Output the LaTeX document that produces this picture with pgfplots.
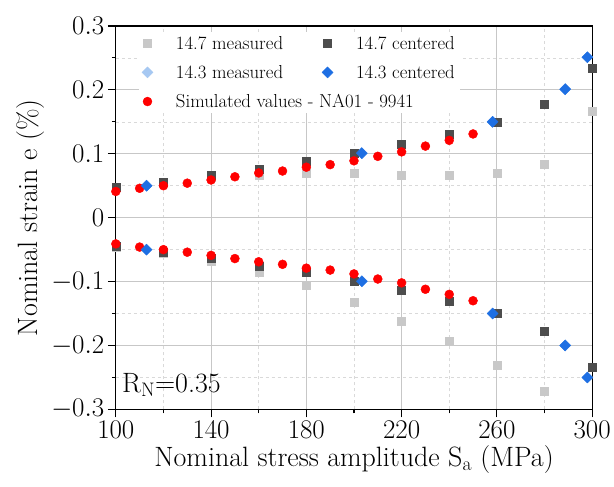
\RequirePackage{fix-cm}
\documentclass[border=0pt]{standalone}
\usepackage{pgfplots}
\pgfplotsset{compat=1.18}
\definecolor{lgray}{HTML}{C8C8C8}
\definecolor{dgray}{HTML}{4D4D4D}
\definecolor{mblue}{HTML}{1E6FE3}
\definecolor{lblue}{HTML}{A6C8F2}
\begin{document}
\begin{tikzpicture}
\begin{axis}[
 name=ax,
 width=477pt, height=384pt, scale only axis,
 xmin=100, xmax=300, ymin=-0.3, ymax=0.3,
 xtick={100,140,180,220,260,300},
 ytick={-0.3,-0.2,-0.1,0,0.1,0.2,0.3},
 minor x tick num=1, minor y tick num=1,
 grid=both,
 major grid style={black!22, line width=0.8pt},
 minor grid style={black!15, dashed, line width=0.6pt},
 tick align=outside, tick pos=left,
 major tick length=8pt, minor tick length=4pt,
 every tick/.style={black, line width=1.1pt},
 axis line style={line width=1.2pt},
 ticklabel style={font=\fontsize{27}{32}\selectfont},
 yticklabel style={/pgf/number format/fixed},
 label style={font=\fontsize{28}{33}\selectfont},
 xlabel={Nominal stress amplitude S\textsubscript{a} (MPa)},
 ylabel={Nominal strain e (\%)},
 legend columns=2,
 legend cell align=left,
 legend style={at={(0,1)}, anchor=north west, xshift=23pt, yshift=-6pt,
   draw=none, fill=white, font=\fontsize{18.8}{22}\selectfont,
   /tikz/every odd column/.append style={column sep=21pt},
   /tikz/every even column/.append style={column sep=37pt},
   row sep=10.5pt},
]
\addlegendimage{only marks, mark=square*, color=lgray, mark size=4pt}
\addlegendentry{14.7 measured}
\addlegendimage{only marks, mark=square*, color=dgray, mark size=4pt}
\addlegendentry{14.7 centered}
\addlegendimage{only marks, mark=square*, color=lblue, mark size=3.9pt, mark options={rotate=45}}
\addlegendentry{14.3 measured}
\addlegendimage{only marks, mark=square*, color=mblue, mark size=3.9pt, mark options={rotate=45}}
\addlegendentry{14.3 centered}
\addlegendimage{only marks, mark=*, color=red, mark size=4.5pt}
\addlegendentry{\makebox[0pt][l]{Simulated values - NA01 - 9941}}

% 14.7 measured
\addplot[forget plot, only marks, mark=square*, color=lgray, mark size=4pt] coordinates {
(100,0.047)(120,0.055)(140,0.063)(160,0.066)(180,0.069)(200,0.069)(220,0.067)(240,0.067)(260,0.070)(280,0.083)(300,0.166)
(100,-0.046)(120,-0.056)(140,-0.068)(160,-0.085)(180,-0.106)(200,-0.132)(220,-0.162)(240,-0.194)(260,-0.231)(280,-0.271)(300,-0.302)};
% 14.3 measured (hidden below centered)
\addplot[forget plot, only marks, mark=square*, color=lblue, mark size=3.9pt, mark options={rotate=45}] coordinates {
(112.9,0.050)(203.3,0.101)(258.2,0.150)(288.7,0.201)(298,0.251)
(112.9,-0.050)(203.3,-0.0995)(258.2,-0.150)(288.7,-0.200)(298,-0.250)};
% 14.7 centered
\addplot[forget plot, only marks, mark=square*, color=dgray, mark size=4pt] coordinates {
(100,0.048)(120,0.056)(140,0.066)(160,0.076)(180,0.088)(200,0.101)(220,0.115)(240,0.131)(260,0.150)(280,0.178)(300,0.234)
(100,-0.045)(120,-0.054)(140,-0.064)(160,-0.076)(180,-0.086)(200,-0.099)(220,-0.114)(240,-0.131)(260,-0.150)(280,-0.177)(300,-0.234)};
% simulated
\addplot[forget plot, only marks, mark=*, color=red, mark size=4.5pt] coordinates {
(100,0.041)(110,0.046)(120,0.050)(130,0.054)(140,0.059)(150,0.064)(160,0.070)(170,0.073)(180,0.079)(190,0.083)(200,0.089)(210,0.096)(220,0.103)(230,0.112)(240,0.121)(250,0.131)
(100,-0.041)(110,-0.046)(120,-0.050)(130,-0.054)(140,-0.059)(150,-0.064)(160,-0.069)(170,-0.073)(180,-0.079)(190,-0.082)(200,-0.088)(210,-0.096)(220,-0.102)(230,-0.112)(240,-0.120)(250,-0.130)};
% 14.3 centered
\addplot[forget plot, only marks, mark=square*, color=mblue, mark size=3.9pt, mark options={rotate=45}] coordinates {
(112.9,0.050)(203.3,0.101)(258.2,0.150)(288.7,0.201)(298,0.251)
(112.9,-0.050)(203.3,-0.0995)(258.2,-0.150)(288.7,-0.200)(298,-0.250)};

\node[anchor=base west, inner sep=0pt, font=\fontsize{28}{33}\selectfont] at (axis cs:100,-0.3) [xshift=6pt, yshift=17pt] {R\textsubscript{N}=0.35};
\end{axis}
\path ([xshift=-116pt,yshift=-77pt]ax.south west) rectangle ([xshift=21pt,yshift=26pt]ax.north east);
\end{tikzpicture}
\end{document}
